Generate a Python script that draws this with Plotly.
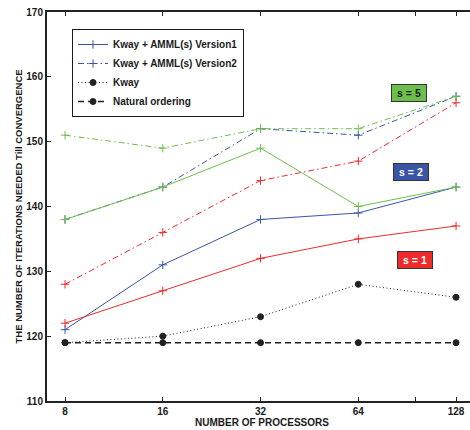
import plotly.graph_objects as go

# Number of processors (log2-spaced x axis)
processors = [8, 16, 32, 64, 128]

# Iterations needed until convergence
v1_s1 = [122, 127, 132, 135, 137]
v2_s1 = [128, 136, 144, 147, 156]
v1_s2 = [121, 131, 138, 139, 143]
v2_s2 = [138, 143, 152, 151, 157]
v1_s5 = [138, 143, 149, 140, 143]
v2_s5 = [151, 149, 152, 152, 157]
kway = [119, 120, 123, 128, 126]
natural = [119, 119, 119, 119, 119]

x_tickvals = [8, 16, 32, 64, 96, 128]
x_ticktext = ["8", "16", "32", "64", "", "128"]
y_tickvals = [110, 120, 130, 140, 150, 160, 170]

BLUE = "#3b55a6"
RED = "#ee2a2a"
GREEN = "#6dbf4b"
FONT = "Liberation Sans, Arial, sans-serif"
DASHDOT = "6px,3px,1.5px,3px"

fig = go.Figure()


def add_line(y, color, dash, name, show, symbol="cross-thin", width=1, msize=6):
    fig.add_trace(go.Scatter(
        x=processors, y=y, name=name, showlegend=show,
        mode="lines+markers",
        line=dict(color=color, width=width, dash=dash),
        marker=dict(symbol=symbol, size=msize, color=color,
                    line=dict(color=color, width=1)),
    ))


add_line(v1_s2, BLUE, "solid", "Kway + AMML(s) Version1", True)
add_line(v2_s2, BLUE, DASHDOT, "Kway + AMML(s) Version2", True)
add_line(kway, "#222222", "1px,2.5px", "Kway", True, symbol="circle", width=1, msize=6)
add_line(natural, "#222222", "6px,4px", "Natural ordering", True, symbol="circle", width=1.5, msize=6)
add_line(v1_s1, RED, "solid", "V1 s=1", False)
add_line(v2_s1, RED, DASHDOT, "V2 s=1", False)
add_line(v1_s5, GREEN, "solid", "V1 s=5", False)
add_line(v2_s5, GREEN, DASHDOT, "V2 s=5", False)

L, T, B = 47, 12, 29
W, H = 470, 430
pw, ph = W - L, H - T - B


def px(xp):
    return (xp - L) / pw


def py(yp):
    return (H - B - yp) / ph


labels = [
    ("s = 5", 409, 92.5, GREEN, "#1a1a1a"),
    ("s = 2", 410.5, 171.5, BLUE, "white"),
    ("s = 1", 414.5, 259.5, RED, "white"),
]
for text, cx, cy, bg, fg in labels:
    fig.add_annotation(
        x=px(cx), y=py(cy), xref="paper", yref="paper", text=f"<b>{text}</b>",
        xanchor="center", yanchor="middle",
        showarrow=False, font=dict(family=FONT, size=10.5, color=fg),
        bgcolor=bg, bordercolor="#333333", borderwidth=1, width=32, height=14,
    )

fig.add_annotation(
    x=px(18), y=0.5, xref="paper", yref="paper", textangle=-90,
    xanchor="center", yanchor="middle",
    text="<b>THE NUMBER OF ITERATIONS NEEDED Till CONVERGENCE</b>",
    showarrow=False, font=dict(family=FONT, size=9.5, color="#1a1a1a"),
)
fig.add_annotation(
    x=px(262), y=py(422), xref="paper", yref="paper",
    xanchor="center", yanchor="middle",
    text="<b>NUMBER OF PROCESSORS</b>",
    showarrow=False, font=dict(family=FONT, size=10, color="#1a1a1a"),
)

fig.update_layout(
    width=W, height=H,
    margin=dict(l=L, r=0, t=T, b=B),
    paper_bgcolor="white", plot_bgcolor="white",
    font=dict(family=FONT, size=10, color="#1a1a1a"),
    legend=dict(
        x=px(72), y=py(29), xanchor="left", yanchor="top",
        bgcolor="white", bordercolor="#1a1a1a", borderwidth=1,
        font=dict(family=FONT, size=10, color="#1a1a1a", weight="bold"),
        tracegroupgap=0, itemwidth=30,
    ),
    xaxis=dict(
        type="log", range=[0.8476, 2.1501],
        tickvals=x_tickvals, ticktext=x_ticktext,
        ticks="inside", ticklen=4, tickwidth=1, tickcolor="#222222",
        showline=True, linecolor="#222222", linewidth=2, mirror="ticks",
        showgrid=False, zeroline=False,
        tickfont=dict(family=FONT, size=10, weight="bold"),
    ),
    yaxis=dict(
        range=[110, 170], tickvals=y_tickvals,
        ticks="inside", ticklen=4, tickwidth=1, tickcolor="#222222",
        showline=True, linecolor="#222222", linewidth=2,
        showgrid=False, zeroline=False,
        tickfont=dict(family=FONT, size=10, weight="bold"),
    ),
)

fig.write_html("out.html")
